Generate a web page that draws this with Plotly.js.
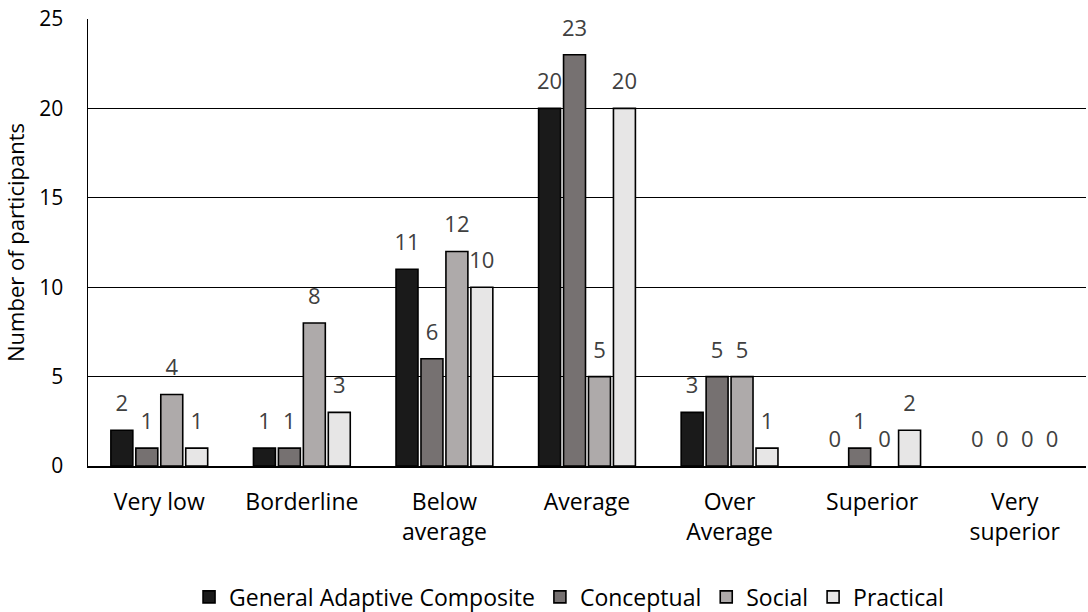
<!DOCTYPE html>
<html>
<head>
<meta charset="utf-8">
<script src="https://cdn.plot.ly/plotly-3.0.1.min.js"></script>
<style>html,body{margin:0;padding:0;background:#fff;}#chart{width:1088px;height:612px;}</style>
</head>
<body>
<div id="chart"></div>
<script>
const categories = ["Very low", "Borderline", "Below<br>average", "Average", "Over<br>Average", "Superior", "Very<br>superior"];
const seriesNames = ["General Adaptive Composite", "Conceptual", "Social", "Practical"];
const generalAdaptive = [2, 1, 11, 20, 3, 0, 0];
const conceptual = [1, 1, 6, 23, 5, 1, 0];
const social = [4, 8, 12, 5, 5, 0, 0];
const practical = [1, 3, 10, 20, 1, 2, 0];
const yTicks = [0, 5, 10, 15, 20, 25];

const values = [generalAdaptive, conceptual, social, practical];
const colors = ["#1a1a1a", "#767171", "#aeaaaa", "#e7e6e6"];
const FONT = "'Open Sans', 'Noto Sans', sans-serif";
const FS = 23;

const bars = values.map((v, i) => ({
  type: "bar",
  name: seriesNames[i],
  x: categories,
  y: v,
  offsetgroup: "g" + i,
  marker: {color: colors[i], line: {color: "#000", width: v.map(d => d === 0 ? 0 : 1.6)}},
  hoverinfo: "skip"
}));

const labels = values.map((v, i) => ({
  type: "scatter",
  mode: "markers+text",
  x: categories,
  y: v,
  offsetgroup: "g" + i,
  text: v.map(String),
  textposition: "top center",
  textfont: {family: FONT, size: FS - 1, color: "#404040"},
  marker: {size: 20, opacity: 0},
  showlegend: false,
  hoverinfo: "skip",
  cliponaxis: false
}));

const layout = {
  width: 1088,
  height: 612,
  margin: {l: 88, r: 2, t: 19, b: 146, autoexpand: false},
  paper_bgcolor: "#fff",
  plot_bgcolor: "#fff",
  font: {family: FONT, size: FS, color: "#000"},
  barmode: "group",
  scattermode: "group",
  bargap: 0.3,
  scattergap: 0.3,
  bargroupgap: 0.12,
  showlegend: true,
  legend: {
    orientation: "h",
    x: 0.482, xanchor: "center",
    y: -0.293, yanchor: "middle",
    font: {family: FONT, size: FS, color: "#000"},
    traceorder: "normal",
    itemwidth: 30
  },
  xaxis: {
    type: "category",
    showline: true, linecolor: "#000", linewidth: 1.5,
    ticks: "", showgrid: false, zeroline: false,
    tickfont: {family: FONT, size: FS, color: "#000"},
    ticklabelstandoff: 15
  },
  yaxis: {
    range: [0, 25],
    tickvals: yTicks,
    ticktext: yTicks.map(String),
    showline: true, linecolor: "#000", linewidth: 1.5,
    showgrid: true, gridcolor: "#000", gridwidth: 1.3,
    zeroline: false, ticks: "",
    tickfont: {family: FONT, size: FS - 2, color: "#000"},
    ticklabelstandoff: 19,
    title: {text: "Number of participants", font: {family: FONT, size: FS - 1, color: "#000"}, standoff: 14}
  }
};

Plotly.newPlot("chart", bars.concat(labels), layout, {displayModeBar: false, staticPlot: true});
</script>
</body>
</html>
